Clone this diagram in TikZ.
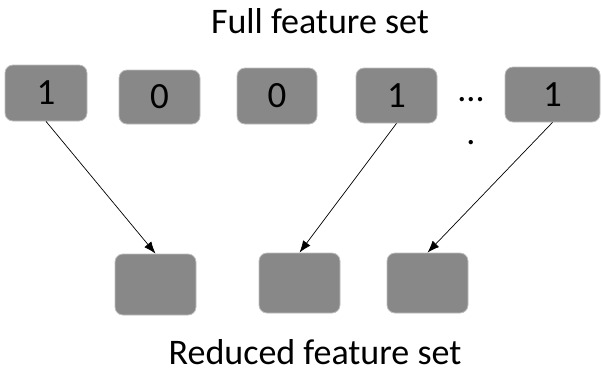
\documentclass[tikz,border=0pt]{standalone}
\usepackage{fontspec}
\setmainfont{Carlito}
\usetikzlibrary{arrows.meta}
\definecolor{boxgray}{HTML}{888888}
\definecolor{boxedge}{HTML}{BEBEBE}
\begin{document}
\begin{tikzpicture}[x=1pt,y=-1pt,
  featbox/.style={draw=boxedge,line width=0.8pt,fill=boxgray,rounded corners=8pt,inner sep=0pt,
    font=\fontsize{37}{42}\selectfont,text=black},
  lbl/.style={font=\fontsize{36}{42}\selectfont,anchor=base,inner sep=0pt,text depth=0pt},
  conn/.style={line width=0.7pt,-{Latex[length=12pt,width=9pt]}}]
\useasboundingbox (0,0) rectangle (602,372);
\node[lbl] (top) at (320,33) {Full feature set};
\node[lbl] (bottom) at (315,364) {Reduced feature set};
\node[featbox,minimum width=82pt,minimum height=56pt] (t1) at (46,93) {1};
\node[featbox,minimum width=81pt,minimum height=54pt] (t2) at (159.5,97) {0};
\node[featbox,minimum width=80pt,minimum height=56pt] (t3) at (277,96) {0};
\node[featbox,minimum width=81pt,minimum height=55pt] (t4) at (396.5,95.5) {1};
\node[featbox,minimum width=95pt,minimum height=55pt] (t5) at (552.5,94.5) {1};
\node[lbl] (dots) at (471,101) {...};
\node[lbl] (dot) at (471,144) {.};
\node[featbox,minimum width=81pt,minimum height=61pt] (b1) at (155.5,284.5) {};
\node[featbox,minimum width=81pt,minimum height=60pt] (b2) at (299.5,283) {};
\node[featbox,minimum width=81pt,minimum height=60pt] (b3) at (427.5,283) {};
\draw[conn] (t1.south) -- (b1.north);
\draw[conn] (t4.south) -- (b2.north);
\draw[conn] (t5.south) -- (b3.north);
\end{tikzpicture}
\end{document}
